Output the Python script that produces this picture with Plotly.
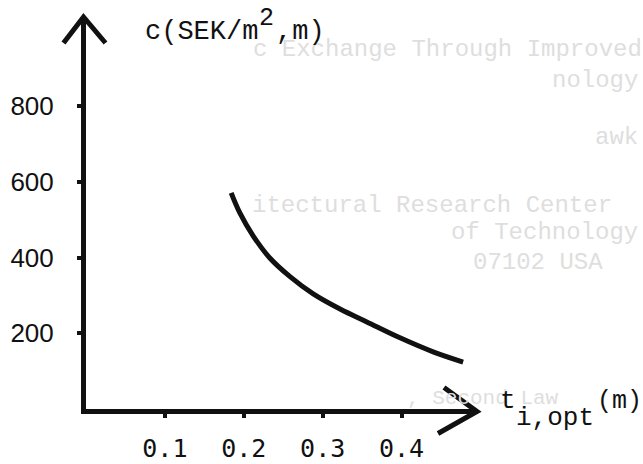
import plotly.graph_objects as go

# ---- data ----
t_opt = [0.184, 0.195, 0.212, 0.233, 0.259, 0.288, 0.322, 0.356, 0.398, 0.440, 0.478]
cost = [571, 518, 457, 399, 349, 304, 264, 230, 188, 151, 124]
x_ticks = [0.1, 0.2, 0.3, 0.4]
x_tick_labels = ["0.1", "0.2", "0.3", "0.4"]
y_ticks = [200, 400, 600, 800]
y_tick_labels = ["200", "400", "600", "800"]
x_max = 0.4956
y_max = 1035.7

W, H = 643, 464
ML, MR, MT, MB = 86, 166, 17, 55
PW = W - ML - MR
PH = H - MT - MB


def px(xp):
    return (xp - ML) / PW


def py(yp):
    return (H - MB - yp) / PH


fig = go.Figure()
fig.add_trace(go.Scatter(
    x=t_opt, y=cost, mode="lines",
    line=dict(color="#111111", width=5, shape="spline", smoothing=1.0),
    hoverinfo="skip", showlegend=False,
))

mono = "Liberation Mono, Courier New, monospace"
ghost = "#dedede"
annotations = []

# faint bleed-through text from the reverse side of the page
ghost_lines = [
    ("c Exchange Through Improved", 251, 50, "left", 24),
    ("nology", 640, 80, "right", 24),
    ("awk", 640, 137, "right", 24),
    ("itectural Research Center", 250, 205, "left", 24),
    ("of Technology", 640, 233, "right", 24),
    ("07102 USA", 538, 262, "center", 24),
    (", Second Law", 405, 398, "left", 21),
]
for txt, xx, yy, anc, fs in ghost_lines:
    annotations.append(dict(
        text=txt, x=px(xx), y=py(yy), xref="paper", yref="paper",
        xanchor=anc, yanchor="middle", showarrow=False,
        font=dict(family=mono, size=fs, color=ghost),
    ))

title_font = dict(family=mono, size=27, color="#111111")
# y-axis title  c(SEK/m^2,m), typed typewriter style with a raised 2
annotations.append(dict(
    text="c(SEK/m", x=px(143), y=py(32), xref="paper", yref="paper",
    xanchor="left", yanchor="middle", showarrow=False, font=title_font,
))
annotations.append(dict(
    text="2", x=px(266), y=py(19), xref="paper", yref="paper",
    xanchor="center", yanchor="middle", showarrow=False,
    font=dict(family=mono, size=25, color="#111111"),
))
annotations.append(dict(
    text=",m)", x=px(274), y=py(32), xref="paper", yref="paper",
    xanchor="left", yanchor="middle", showarrow=False, font=title_font,
))

# x-axis title  t_{i,opt} (m)
annotations.append(dict(
    text="t", x=px(508), y=py(401), xref="paper", yref="paper",
    xanchor="center", yanchor="middle", showarrow=False,
    font=dict(family=mono, size=26, color="#111111"),
))
annotations.append(dict(
    text="i,opt", x=px(555), y=py(418), xref="paper", yref="paper",
    xanchor="center", yanchor="middle", showarrow=False,
    font=dict(family=mono, size=26, color="#111111"),
))
annotations.append(dict(
    text="(m)", x=px(619), y=py(401), xref="paper", yref="paper",
    xanchor="center", yanchor="middle", showarrow=False,
    font=dict(family=mono, size=25, color="#111111"),
))

shapes = [
    # arrowhead on the y axis (tip at the top end of the axis line)
    dict(type="path", xref="paper", yref="paper", xsizemode="pixel", ysizemode="pixel",
         xanchor=0, yanchor=1, path="M -22.5,-26 L -2.5,0 L 19.5,-26",
         line=dict(color="#111111", width=5)),
    # arrowhead on the x axis (tip at the right end of the axis line)
    dict(type="path", xref="paper", yref="paper", xsizemode="pixel", ysizemode="pixel",
         xanchor=1, yanchor=0, path="M -33,21.5 L 0,-2.5 L -39,-24.5",
         line=dict(color="#111111", width=5)),
]

fig.update_layout(
    template="none",
    width=W, height=H, autosize=False,
    margin=dict(l=ML, r=MR, t=MT, b=MB, pad=0),
    paper_bgcolor="white", plot_bgcolor="white",
    showlegend=False,
    annotations=annotations,
    shapes=shapes,
    xaxis=dict(
        range=[0, x_max], showgrid=False, zeroline=False, automargin=False,
        showline=True, linecolor="#111111", linewidth=5,
        tickmode="array", tickvals=x_ticks, ticktext=x_tick_labels,
        ticks="outside", ticklen=4, tickwidth=4, tickcolor="#111111",
        ticklabelstandoff=9,
        tickfont=dict(family="DejaVu Sans Mono, monospace", size=25, color="#111111"),
        fixedrange=True,
    ),
    yaxis=dict(
        range=[0, y_max], showgrid=False, zeroline=False, automargin=False,
        showline=True, linecolor="#111111", linewidth=5,
        tickmode="array", tickvals=y_ticks, ticktext=y_tick_labels,
        ticks="outside", ticklen=4, tickwidth=4, tickcolor="#111111",
        ticklabelstandoff=18,
        tickfont=dict(family="Liberation Sans, Arial, sans-serif", size=26, color="#111111"),
        fixedrange=True,
    ),
)

fig.write_html(
    "out.html",
    config={"displayModeBar": False, "responsive": False},
    default_width="643px", default_height="464px",
    post_script="document.body.style.margin='0';document.body.style.overflow='hidden';",
)
